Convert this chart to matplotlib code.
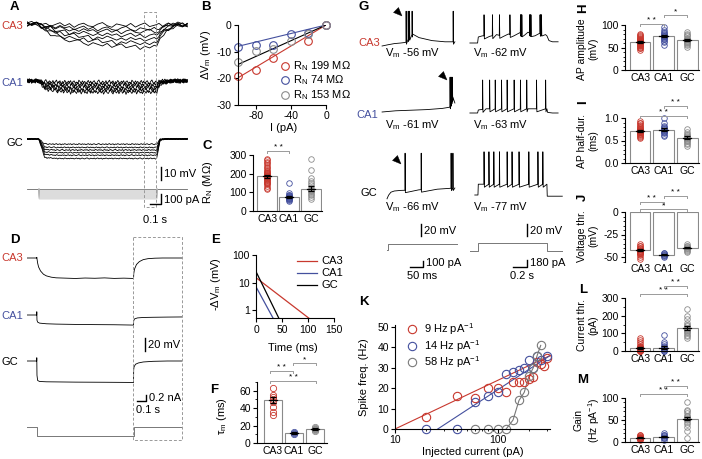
import numpy as np
import matplotlib
matplotlib.use("Agg")
import matplotlib.pyplot as plt
from matplotlib.ticker import MultipleLocator, NullFormatter, NullLocator, LogLocator
from matplotlib.patches import Rectangle, Polygon

plt.rcParams["font.family"] = ["Liberation Sans", "DejaVu Sans"]
plt.rcParams["mathtext.fontset"] = "custom"
plt.rcParams["mathtext.rm"] = "Liberation Sans"
plt.rcParams["mathtext.it"] = "Liberation Sans:italic"
plt.rcParams["mathtext.bf"] = "Liberation Sans:bold"
plt.rcParams["font.size"] = 7.5
plt.rcParams["axes.unicode_minus"] = False
plt.rcParams["axes.linewidth"] = 0.8
for a in ("xtick", "ytick"):
    plt.rcParams[a + ".major.width"] = 0.8
    plt.rcParams[a + ".minor.width"] = 0.6
    plt.rcParams[a + ".major.size"] = 3
    plt.rcParams[a + ".minor.size"] = 1.6
    plt.rcParams[a + ".major.pad"] = 1.5
    plt.rcParams[a + ".labelsize"] = 7.5

# ======================= DATA =======================
regions = ["CA3", "CA1", "GC"]

# --- A: hyperpolarising steps (mV deflections, pA steps) ---
a_t_key = [0, 0.07, 0.1, 0.15, 0.25, 0.4, 0.6, 0.8, 1.1, 1.13, 1.18, 1.25, 1.36]
a_prof_ca3 = [0, 0, 0.05, 0.25, 0.55, 0.75, 0.88, 0.95, 1.0, 0.6, 0.3, 0.12, 0.05]
a_prof_ca1 = [0, 0, 0.0, 0.7, 0.9, 1.0, 1.0, 1.0, 1.0, 0.3, 0.1, 0.0, 0.0]
a_prof_gc = [0, 0, 0.0, 0.95, 1.0, 1.0, 1.0, 1.0, 1.0, 0.05, 0.0, 0.0, 0.0]
a_lv_ca3 = [-1, -4, -6, -9, -12, -15, -18]
a_lv_ca1 = [-1, -2.5, -4, -5.5, -7, -8.5]
a_lv_gc = [-4, -6.5, -8.5, -10.5, -12.5, -15]
a_steps_pa = [-10, -20, -30, -40, -50, -60, -70, -80, -90, -100]
a_noise = [0.3, -0.5, 0.6, -0.2, 0.4, -0.7, 0.1, 0.8, -0.4, 0.5, -0.9, 0.2, 0.7, -0.3, -0.6,
           0.4, 1.0, -0.2, -0.8, 0.5, 0.1, -0.4, 0.7, -0.7, 0.2, 0.9, -0.5, 0.0, 0.6, -1.0,
           0.3, -0.3, 0.8, 0.1, -0.6, 0.5, -0.1, 0.7, -0.8, 0.3, 0.6, -0.4, 0.1, -0.7, 0.9]

# --- B ---
b_i_ca3 = [-100, -80, -60, -20, 0]
b_v_ca3 = [-19.3, -17.0, -12.5, -5.9, 0.0]
b_i_ca1 = [-100, -80, -60, -40, -20, 0]
b_v_ca1 = [-8.3, -7.6, -7.5, -3.3, -2.9, 0.0]
b_i_gc = [-100, -80, -60, -40, -20, 0]
b_v_gc = [-14.0, -9.9, -9.0, -6.1, -3.3, 0.0]
b_fit_i = [-100, 0]
b_fit_ca3 = [-19.8, 0]
b_fit_ca1 = [-8.0, 0]
b_fit_gc = [-14.8, 0]
b_rn = [199, 74, 153]

# --- C: input resistance (MOhm) ---
c_mean = [185, 77, 120]
c_sem = [8, 6, 14]
c_pts = [
    [118, 125, 135, 142, 148, 152, 158, 162, 166, 170, 174, 178, 182, 185, 188,
     191, 195, 198, 202, 206, 210, 215, 220, 228, 236, 245, 255, 265, 275, 280],
    [55, 60, 63, 66, 68, 70, 72, 74, 76, 78, 80, 84, 88, 95, 150],
    [62, 75, 85, 92, 100, 105, 110, 115, 125, 140, 150, 160, 175, 220, 280],
]

# --- D: long step traces (mV, nA) ---
d_t_ca3 = [0, 0.1, 0.101, 0.11, 0.12, 0.14, 0.17, 0.2, 0.25, 0.3, 0.4, 0.5, 0.6, 0.7, 0.8,
           0.9, 1.0, 1.1, 1.102, 1.11, 1.13, 1.16, 1.2, 1.25, 1.32, 1.4, 1.5, 1.6]
d_v_ca3 = [0, 0, 1, -8, -14, -20, -25, -27.5, -29.5, -30.5, -31, -31.5, -30.8, -31.2, -30.6,
           -31.4, -31, -31.5, -24, -17, -10, -5.5, -2.5, -1, -0.3, 0, 0, 0]
d_t_ca1 = [0, 0.1, 0.101, 0.103, 0.11, 0.13, 0.2, 0.3, 0.5, 0.7, 0.9, 1.1, 1.101, 1.11,
           1.14, 1.2, 1.3, 1.45, 1.6]
d_v_ca1 = [0, 0, 5, -8, -11, -12.5, -13.5, -14, -14.5, -14.8, -15, -15.5, -9, -6,
           -4.5, -3.8, -3.5, -3.2, -3]
d_t_gc = [0, 0.1, 0.101, 0.103, 0.11, 0.13, 0.2, 0.5, 0.8, 1.1, 1.101, 1.105, 1.12, 1.15,
          1.2, 1.3, 1.45, 1.6]
d_v_gc = [0, 0, 5, -22, -30, -31.5, -32, -32.5, -32.7, -33, -14, -9, -5, -3,
          -1.5, -0.5, 0, 0]
d_t_i = [0, 0.1, 0.1, 1.1, 1.1, 1.6]
d_i = [0, 0, -0.3, -0.3, 0, 0]

# --- E: membrane decay fits ---
e_t_ca3, e_v_ca3 = [0, 102], [15, 0.5]
e_t_ca1, e_v_ca1 = [0, 33], [7, 0.5]
e_t_gc, e_v_gc = [0, 44], [25, 0.5]

# --- F: membrane time constant (ms) ---
f_mean = [49, 11.5, 16]
f_sem = [3.5, 0.6, 0.8]
f_pts = [[32, 36, 41, 47, 50, 53, 55, 63], [10.5, 11.5, 12.5], [14, 15, 15.5, 16.5, 17, 18]]

# --- G: firing traces (left in ms, right in s; mV relative to Vm) ---
gl_t_ca3 = [8, 30, 55, 80, 98, 125, 150, 200, 250, 288]
gl_v_ca3 = [0, 2, 4, 5, 6, 20, 14, 9, 7, 7]
gl_sp_ca3 = [100, 108, 113, 123, 281]
gl_t_ca1 = [8, 60, 120, 180, 240, 268, 280, 288]
gl_v_ca1 = [0, 2, 3, 4, 6, 8, 25, 15]
gl_sp_ca1 = [269, 272, 275, 278]
gl_t_gc = [27, 33, 42, 55, 80, 150, 220, 288]
gl_v_gc = [-3, 3, 8, 10, 11, 12, 13, 15]
gl_sp_gc = [96, 158, 273, 280]
gl_t_i = [27, 30, 30, 295]
gl_i = [0, 0, 100, 100]

gr_t_ca3 = [0.07, 0.18, 0.19, 0.25, 0.35, 0.45, 0.55, 0.62, 0.7, 0.78, 0.85, 0.9, 1.0,
            1.08, 1.15, 1.17, 1.2, 1.25, 1.33]
gr_v_ca3 = [0, 0, 10, 12, 11, 14, 11, 15, 12, 17, 13, 18, 12, 17, 14, 12, 4, 2, 2]
gr_sp_ca3 = [0.27, 0.39, 0.49, 0.64, 0.79, 0.80, 0.81, 0.92, 0.93, 0.94, 1.07, 1.08, 1.09]
gr_t_ca1 = [0.07, 0.18, 0.19, 0.3, 0.6, 0.9, 1.17, 1.18, 1.25, 1.33]
gr_v_ca1 = [0, 0, 5, 7, 7, 7, 7, 1, 0, 0]
gr_sp_ca1 = [0.25, 0.35, 0.43, 0.52, 0.6, 0.7, 0.79, 0.88, 1.02, 1.15]
gr_t_gc = [0.14, 0.185, 0.19, 1.17, 1.175, 1.25, 1.39]
gr_v_gc = [0, 0, 18, 18, -2, -2, -2]
gr_sp_gc = [0.27, 0.34, 0.41, 0.49, 0.60, 0.67, 0.77, 0.91, 1.04, 1.11]
gr_t_i = [0.07, 0.186, 0.186, 1.17, 1.17, 1.39]
gr_i = [0, 0, 180, 180, 0, 0]
g_peaks_left = [58, 58, 73]
g_peaks_right = [47, 55, 72]
g_vm_left = ["-56", "-61", "-66"]
g_vm_right = ["-62", "-63", "-77"]

# --- H-M: AP properties ---
h_mean, h_sem = [62, 76, 66], [1.5, 2.2, 2.0]
h_pts = [[45, 48, 50, 52, 53, 55, 55, 56, 57, 58, 58, 59, 60, 60, 61, 62, 62, 63, 64, 65,
          65, 66, 67, 68, 70, 72, 74, 76, 78, 80],
         [55, 62, 65, 68, 70, 72, 74, 75, 76, 78, 80, 82, 85, 90, 95],
         [52, 56, 58, 60, 62, 63, 65, 66, 68, 70, 72, 75, 78, 80, 85]]
i_mean, i_sem = [0.72, 0.74, 0.56], [0.02, 0.03, 0.03]
i_pts = [[0.55, 0.58, 0.6, 0.62, 0.64, 0.65, 0.66, 0.68, 0.69, 0.7, 0.7, 0.71, 0.72, 0.73,
          0.74, 0.75, 0.76, 0.78, 0.8, 0.82, 0.85, 0.88, 0.9, 0.93],
         [0.6, 0.63, 0.66, 0.68, 0.7, 0.72, 0.74, 0.76, 0.78, 0.8, 0.83, 0.88, 1.0],
         [0.38, 0.42, 0.45, 0.48, 0.5, 0.52, 0.54, 0.55, 0.57, 0.6, 0.62, 0.65, 0.7, 0.75]]
j_mean, j_sem = [-42, -47.5, -39.5], [0.8, 0.6, 0.8]
j_pts = [[-36, -38, -40, -41, -42, -43, -44, -45, -46, -48, -50, -52, -40, -43, -45, -47, -38, -44],
         [-45, -47, -48, -49, -50, -48, -46],
         [-36, -38, -39, -40, -41, -42, -43, -44, -40, -38]]
l_mean, l_sem = [16, 18, 132], [5, 9, 11]
l_pts = [[0, 0, 0, 0, 5, 5, 10, 10, 10, 15, 15, 20, 20, 25, 30, 40, 50, 60, 75],
         [0, 0, 5, 10, 10, 15, 20, 30, 40, 50, 90],
         [75, 85, 90, 100, 110, 115, 120, 125, 130, 140, 150, 160, 180, 200, 240]]
m_mean, m_sem = [9.5, 12.5, 53], [1.0, 1.5, 4.0]
m_pts = [[5, 6, 7, 8, 8, 9, 9, 10, 10, 11, 12, 13, 15, 17],
         [5, 8, 10, 12, 13, 15, 17, 20],
         [8, 25, 35, 40, 45, 50, 52, 55, 58, 60, 65, 70, 72, 90]]

# --- K: f-I relation ---
k_i_ca3 = [20, 40, 60, 80, 100, 120, 140, 160, 180, 200, 220, 240, 260, 280, 300]
k_f_ca3 = [6, 16, 15, 20, 20, 18, 23, 23, 23, 24.5, 25.5, 33, 32, 31, 35]
k_i_ca1 = [20, 40, 60, 80, 100, 120, 140, 160, 180, 200, 220, 240, 260, 300]
k_f_ca1 = [0, 0, 13, 16, 18, 27, 28, 29, 30, 34, 30, 36, 34, 36]
k_i_gc = [60, 80, 100, 120, 140, 160, 180, 200, 220, 240, 260]
k_f_gc = [0, 0, 0, 0, 4.4, 14, 18, 26, 30, 36, 41]
k_fit_ca3_i, k_fit_ca3_f = [10, 320], [0, 36]
k_fit_ca1_i, k_fit_ca1_f = [26, 320], [0, 36]
k_gain = [9, 14, 58]

# ======================= STYLE =======================
RED = "#c8382e"
BLUE = "#44509e"
GRAY = "#8c8c8c"
COLS = [RED, BLUE, GRAY]
BAR_EDGE = "#8a8a8a"
BRK = "#9a9a9a"
W, H = 702, 459

fig = plt.figure(figsize=(W / 100, H / 100), dpi=100)


def ax_px(x0, y0, x1, y1):
    ax = fig.add_axes([x0 / W, 1 - y1 / H, (x1 - x0) / W, (y1 - y0) / H])
    ax.patch.set_alpha(0)
    return ax


def clean(ax):
    for s in ("top", "right"):
        ax.spines[s].set_visible(False)


def trace_ax(x0, y0, x1, y1, xlim):
    ax = ax_px(x0, y0, x1, y1)
    ax.set_xlim(*xlim)
    ax.set_ylim(y1, y0)
    ax.axis("off")
    return ax


def spiky(tb, vb, spikes, peak, rise, fall, ahp):
    t = list(tb)
    v = list(vb)
    for s in spikes:
        v0 = float(np.interp(s, tb, vb))
        t += [s, s + rise, s + fall]
        v += [v0, peak, v0 - ahp]
    order = np.argsort(t, kind="stable")
    return np.array(t)[order], np.array(v)[order]


def bar_panel(box, means, sems, pts, ylim, yticks, minor, xlim=(-0.64, 2.5), ms=4.0):
    ax = ax_px(*box)
    x = np.arange(3)
    ax.bar(x, means, width=0.88, color="white", edgecolor=BAR_EDGE, linewidth=0.8, zorder=1)
    for xi, p, c in zip(x, pts, COLS):
        ax.plot(np.full(len(p), xi), p, "o", mfc="none", mec=c, ms=ms, mew=0.6,
                zorder=2, clip_on=False)
    ax.errorbar(x, means, yerr=sems, fmt="none", ecolor="k", elinewidth=0.9,
                capsize=2.5, capthick=0.9, zorder=3)
    for xi, m in zip(x, means):
        ax.plot([xi - 0.18, xi + 0.18], [m, m], color="k", lw=0.9, zorder=3)
    ax.set_xlim(*xlim)
    ax.set_ylim(*ylim)
    ax.set_yticks(yticks)
    if minor:
        ax.yaxis.set_minor_locator(MultipleLocator(minor))
    ax.set_xticks(x)
    ax.set_xticklabels(regions)
    ax.tick_params(axis="x", length=0, pad=2)
    clean(ax)
    return ax


# ======================= A =======================
axA = trace_ax(27, 0, 192, 230, (0, 1.4))
tA = np.linspace(0, 1.36, 137)
tAc = np.linspace(0, 1.36, 35)
for k, lv in enumerate(a_lv_ca3):
    nz = np.interp(tA, tAc, np.roll(np.resize(a_noise, 35), 5 * k) * 2.0)
    v = lv * np.interp(tA, a_t_key, a_prof_ca3) + nz
    axA.plot(tA, 24 - 1.3 * v, color="k", lw=0.6)
for k, lv in enumerate(a_lv_ca1):
    nz = np.roll(np.resize(a_noise, 137), 11 * k) * 1.8
    v = lv * np.interp(tA, a_t_key, a_prof_ca1) + nz
    axA.plot(tA, 81 - 1.3 * v, color="k", lw=0.6)
for k, lv in enumerate(a_lv_gc):
    nz = np.roll(np.resize(a_noise, 137), 7 * k) * 0.5
    v = lv * np.interp(tA, a_t_key, a_prof_gc) + nz
    axA.plot(tA, 139 - 1.3 * v, color="k", lw=0.6)
axA.plot([0, 1.36], [189, 189], color="#666666", lw=0.6)
for s in a_steps_pa:
    axA.plot([0.1, 0.1, 1.1, 1.1], [189, 189 - 0.1 * s, 189 - 0.1 * s, 189],
             color="#b0b0b0", lw=0.35)

# ======================= B =======================
axB = ax_px(238, 25, 326, 105)
axB.plot(b_fit_i, b_fit_ca3, color=RED, lw=0.8)
axB.plot(b_fit_i, b_fit_ca1, color=BLUE, lw=0.8)
axB.plot(b_fit_i, b_fit_gc, color="k", lw=0.8)
for xi, yi, c in ((b_i_ca3, b_v_ca3, RED), (b_i_ca1, b_v_ca1, BLUE), (b_i_gc, b_v_gc, GRAY)):
    axB.plot(xi, yi, "o", mfc="none", mec=c, ms=5.5, mew=0.8, clip_on=False)
axB.set_xlim(-100, 0)
axB.set_ylim(-30, 0)
axB.set_xticks([-80, -40, 0])
axB.set_yticks([0, -10, -20, -30])
clean(axB)

# ======================= C =======================
bar_panel((253, 155, 322, 211), c_mean, c_sem, c_pts, (0, 300), [0, 100, 200, 300], None)

# ======================= D =======================
axD = trace_ax(27, 230, 182, 450, (0, 1.6))
axD.plot(d_t_ca3, 258 - 0.65 * np.array(d_v_ca3), color="k", lw=0.6)
axD.plot(d_t_ca1, 315 - 0.65 * np.array(d_v_ca1), color="k", lw=0.6)
axD.plot(d_t_gc, 361 - 0.65 * np.array(d_v_gc), color="k", lw=0.6)
axD.plot(d_t_i, 427 - 30 * np.array(d_i), color="#777777", lw=0.7)

# ======================= E =======================
axE = ax_px(256, 255, 334, 318.3)
axE.plot(e_t_ca3, e_v_ca3, color=RED, lw=0.9)
axE.plot(e_t_ca1, e_v_ca1, color=BLUE, lw=0.9)
axE.plot(e_t_gc, e_v_gc, color="k", lw=0.9)
axE.set_yscale("log")
axE.set_ylim(0.5, 100)
axE.set_xlim(0, 150)
axE.set_yticks([1, 10, 100])
axE.set_yticklabels(["1", "10", "100"])
axE.yaxis.set_minor_locator(NullLocator())
axE.set_xticks([0, 50, 100, 150])
clean(axE)

# ======================= F =======================
bar_panel((257, 382, 327, 443), f_mean, f_sem, f_pts, (0, 70), [0, 20, 40, 60], 10,
          xlim=(-0.76, 2.57), ms=4.5)

# ======================= G =======================
axGL = trace_ax(380, 0, 460, 260, (0, 307.7))
for (tb, vb, sp), base, pk in zip(((gl_t_ca3, gl_v_ca3, gl_sp_ca3),
                                   (gl_t_ca1, gl_v_ca1, gl_sp_ca1),
                                   (gl_t_gc, gl_v_gc, gl_sp_gc)),
                                  (46, 112, 197), g_peaks_left):
    t, v = spiky(tb, vb, sp, pk, 0.5, 1.6, 4)
    axGL.plot(t, base - 0.6 * v, color="k", lw=0.6)
axGL.plot(gl_t_i, 250 - 0.06 * np.array(gl_i), color="#777777", lw=0.7)

axGR = trace_ax(465, 0, 565, 260, (0, 1.4286))
for (tb, vb, sp), base, pk in zip(((gr_t_ca3, gr_v_ca3, gr_sp_ca3),
                                   (gr_t_ca1, gr_v_ca1, gr_sp_ca1),
                                   (gr_t_gc, gr_v_gc, gr_sp_gc)),
                                  (43, 113, 195), g_peaks_right):
    t, v = spiky(tb, vb, sp, pk, 0.002, 0.007, 5)
    axGR.plot(t, base - 0.6 * v, color="k", lw=0.6)
axGR.plot(gr_t_i, 251 - 0.045 * np.array(gr_i), color="#777777", lw=0.7)

# ======================= H-M =======================
axH = bar_panel((625, 25, 699, 70), h_mean, h_sem, h_pts, (0, 100), [0, 50, 100], 10)
axI = bar_panel((625, 118, 699, 163), i_mean, i_sem, i_pts, (0, 1), [0, 0.5, 1.0], 0.1)
axI.set_yticklabels(["0.0", "0.5", "1.0"])
axJ = bar_panel((625, 212, 699, 261.5), j_mean, j_sem, j_pts, (-55, 0), [0, -25, -50], 5)
axJ.spines["bottom"].set_visible(False)
axL = bar_panel((625, 298, 699, 351), l_mean, l_sem, l_pts, (0, 300), [0, 100, 200, 300], 50)
axM = bar_panel((625, 398, 699, 442), m_mean, m_sem, m_pts, (0, 100), [0, 50, 100], 10)

# ======================= K =======================
axK = ax_px(395, 325, 550, 429)
axK.plot(k_fit_ca3_i, k_fit_ca3_f, color=RED, lw=0.8)
axK.plot(k_fit_ca1_i, k_fit_ca1_f, color=BLUE, lw=0.8)
axK.plot(k_i_gc[3:], k_f_gc[3:], color="#777777", lw=0.8)
axK.plot(k_i_ca3, k_f_ca3, "o", mfc="none", mec=RED, ms=6, mew=0.8, clip_on=False)
axK.plot(k_i_ca1, k_f_ca1, "o", mfc="none", mec=BLUE, ms=6, mew=0.8, clip_on=False)
axK.plot(k_i_gc, k_f_gc, "o", mfc="none", mec="#7a7a7a", ms=6, mew=0.8, clip_on=False)
axK.set_xscale("log")
axK.set_xlim(10, 320)
axK.set_ylim(0, 51)
axK.set_xticks([10, 100])
axK.set_xticklabels(["10", "100"])
axK.xaxis.set_minor_locator(LogLocator(base=10, subs=np.arange(2, 10)))
axK.xaxis.set_minor_formatter(NullFormatter())
axK.set_yticks([0, 10, 20, 30, 40, 50])
clean(axK)

# ======================= OVERLAY (labels, scale bars, brackets) =======================
ov = fig.add_axes([0, 0, 1, 1], zorder=20)
ov.set_xlim(0, W)
ov.set_ylim(H, 0)
ov.axis("off")
ov.patch.set_alpha(0)


def T(x, y, s, **kw):
    kw.setdefault("fontsize", 8)
    kw.setdefault("va", "center")
    ov.text(x, y, s, **kw)


def PL(label, x, y, rot=0):
    ov.text(x, y, label, fontsize=9.5, fontweight="bold", ha="center", va="center", rotation=rot)


def bracket(x1, x2, y, stars):
    ov.plot([x1, x1, x2, x2], [y + 2.2, y, y, y + 2.2], color=BRK, lw=0.7)
    ov.text((x1 + x2) / 2, y - 3.2, stars, fontsize=6, ha="center", va="center")


# panel letters
PL("A", 14, 7)
PL("B", 206, 7)
PL("C", 207, 146)
PL("D", 15, 240)
PL("E", 216, 240)
PL("F", 214, 390)
PL("G", 364, 7)
PL("K", 364, 302)
PL("H", 583, 8, 90)
PL("I", 583, 102, 90)
PL("J", 583, 197, 90)
PL("L", 583, 290)
PL("M", 583, 380)

# A labels & scale bars
T(23, 26, "CA3", color=RED, ha="right")
T(23, 83, "CA1", color=BLUE, ha="right")
T(23, 143, "GC", color="k", ha="right")
ov.add_patch(Rectangle((144, 12), 12, 195, fill=False, ec="#999999", lw=0.7, ls=(0, (3, 2))))
ov.plot([161, 161], [167, 180], color="k", lw=1.0)
T(164, 174, "10 mV")
ov.plot([150, 161, 161], [204, 204, 194], color="k", lw=1.0)
T(164, 200, "100 pA")
T(143, 220, "0.1 s")

# B legend & labels
for y, c, rn in zip((66, 80, 95), (RED, BLUE, GRAY), b_rn):
    ov.plot([285], [y], "o", mfc="none", mec=c, ms=5.5, mew=0.8)
    T(293, y, "R$_\\mathregular{N}$ %d M\u03a9" % rn)
T(206, 55, "\u0394V$_\\mathregular{m}$ (mV)", rotation=90, ha="center")
T(284, 128, "I (pA)", ha="center")

# C labels
T(208, 182, "R$_\\mathregular{N}$ (M\u03a9)", rotation=90, ha="center")
bracket(267, 289, 151, "* *")

# D labels & scale bars
T(1, 258, "CA3", color=RED, ha="left")
T(1, 316, "CA1", color=BLUE, ha="left")
T(1, 362, "GC", color="k", ha="left")
ov.add_patch(Rectangle((133, 237), 49, 203, fill=False, ec="#999999", lw=0.7, ls=(0, (3, 2))))
ov.plot([145, 145], [338, 351], color="k", lw=1.0)
T(148, 345, "20 mV")
ov.plot([137, 146, 146], [401, 401, 395], color="k", lw=1.0)
T(149, 398, "0.2 nA")
T(136, 410, "0.1 s")

# E legend & labels
for y, c, lab in zip((261, 273, 285), (RED, BLUE, "k"), regions):
    ov.plot([297, 317], [y, y], color=c, lw=0.9)
    T(321, y, lab)
T(216, 284, "-\u0394V$_\\mathregular{m}$ (mV)", rotation=90, ha="center")
T(293, 348, "Time (ms)", ha="center")

# F labels
T(222, 416, "\u03c4$_\\mathregular{m}$ (ms)", rotation=90, ha="center")
bracket(270, 293, 371, "* *")
bracket(293, 316, 363, "*")
bracket(270, 316, 381, "* *")

# G labels
T(380, 43, "CA3", color=RED, ha="right")
T(378, 115, "CA1", color=BLUE, ha="right")
T(377, 193, "GC", color="k", ha="right")
for y, vl, vr in zip((53, 125, 207), g_vm_left, g_vm_right):
    T(385, y, "V$_\\mathregular{m}$ %s mV" % vl)
    T(473, y, "V$_\\mathregular{m}$ %s mV" % vr)
for (x, y) in ((398, 12), (443, 76), (397, 160)):
    ov.add_patch(Polygon([[x + 4, y + 4], [x - 4.5, y + 0.5], [x + 0.5, y - 4.5]],
                         closed=True, fc="k", ec="k", lw=0.3))
ov.plot([421, 421], [224, 236], color="k", lw=1.0)
T(424, 231, "20 mV")
ov.plot([527, 527], [224, 236], color="k", lw=1.0)
T(530, 231, "20 mV")
ov.plot([410, 423, 423], [267, 267, 261], color="k", lw=1.0)
T(426, 263, "100 pA")
T(407, 276, "50 ms")
ov.plot([513, 527, 527], [267, 267, 260], color="k", lw=1.0)
T(530, 263, "180 pA")
T(510, 276, "0.2 s")

# K legend & labels
for y, c, g in zip((329, 346, 362), (RED, BLUE, "#7a7a7a"), k_gain):
    ov.plot([412], [y], "o", mfc="none", mec=c, ms=6, mew=0.8)
    T(424, y, "%d Hz pA$^{\\mathregular{-1}}$" % g)
T(364, 377, "Spike freq. (Hz)", rotation=90, ha="center")
T(473, 452, "Injected current (pA)", ha="center")

# H-M labels & brackets
cx = (640, 663.5, 687)
YL = dict(rotation=90, ha="center", multialignment="center", fontsize=7.5)
T(588, 49, "AP amplitude\n(mV)", **YL)
bracket(cx[0], cx[1], 24, "* *")
bracket(cx[1], cx[2], 15, "*")
T(588, 141, "AP half-dur.\n(ms)", **YL)
bracket(cx[1], cx[2], 106, "* *")
bracket(cx[0], cx[2], 116, "* *")
T(588, 236, "Voltage thr.\n(mV)", **YL)
bracket(cx[0], cx[1], 202, "* *")
bracket(cx[1], cx[2], 196, "* *")
bracket(cx[0], cx[2], 209, "*")
T(588, 325, "Current thr.\n(pA)", **YL)
bracket(cx[1], cx[2], 286, "* *")
bracket(cx[0], cx[2], 294, "* *")
T(588, 420, "Gain\n(Hz pA$^{\\mathregular{-1}}$)", **YL)
bracket(cx[1], cx[2], 386, "* *")
bracket(cx[0], cx[2], 394, "* *")

fig.savefig("out.png", dpi=100)
